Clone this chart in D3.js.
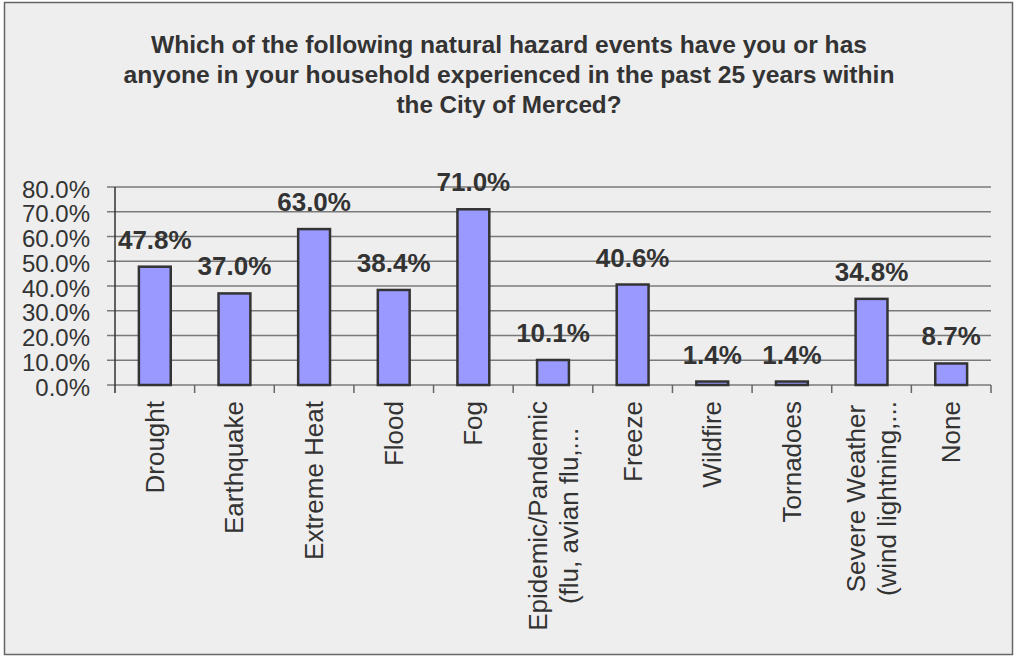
<!DOCTYPE html>
<html>
<head>
<meta charset="utf-8">
<script src="https://cdn.jsdelivr.net/npm/d3@7"></script>
<style>
  body { margin: 0; background: #fff; }
  text { font-family: "Liberation Sans", Arial, sans-serif; fill: #333; }
</style>
</head>
<body>
<svg width="1015" height="657"></svg>
<script>
// chart data
const titleLines = [
  "Which of the following natural hazard events have you or has",
  "anyone in your household experienced in the past 25 years within",
  "the City of Merced?"
];
const titleWidths = [716, 771, 225];
const categories = [
  "Drought", "Earthquake", "Extreme Heat", "Flood", "Fog",
  "Epidemic/Pandemic (flu, avian flu,...", "Freeze", "Wildfire", "Tornadoes",
  "Severe Weather (wind lightning,...", "None"
];
const categoryLines = [
  ["Drought"], ["Earthquake"], ["Extreme Heat"], ["Flood"], ["Fog"],
  ["Epidemic/Pandemic", "(flu, avian flu,..."], ["Freeze"], ["Wildfire"], ["Tornadoes"],
  ["Severe Weather", "(wind lightning,..."], ["None"]
];
const values = [0.478, 0.370, 0.630, 0.384, 0.710, 0.101, 0.406, 0.014, 0.014, 0.348, 0.087];
const yTicks = [0, 0.1, 0.2, 0.3, 0.4, 0.5, 0.6, 0.7, 0.8];

const svg = d3.select("svg");
const fmt = d3.format(".1%");

// background + border
svg.append("rect")
  .attr("x", 4.5).attr("y", 2.5)
  .attr("width", 1008).attr("height", 652)
  .attr("fill", "#eeeeee")
  .attr("stroke", "#666")
  .attr("stroke-width", 1.5);

// title
svg.append("g").selectAll("text")
  .data(titleLines)
  .enter().append("text")
    .attr("x", 509)
    .attr("y", (d, i) => 53 + i * 30)
    .attr("text-anchor", "middle")
    .attr("textLength", (d, i) => titleWidths[i])
    .attr("lengthAdjust", "spacingAndGlyphs")
    .style("font-size", "24px")
    .style("font-weight", "bold")
    .text(d => d);

// scales
const x = d3.scaleBand()
  .domain(categories)
  .range([115, 991])
  .padding(0);

const y = d3.scaleLinear()
  .domain([0, 0.8])
  .range([385, 187]);

// gridlines
svg.append("g").selectAll("line")
  .data(yTicks)
  .enter().append("line")
    .attr("x1", 107).attr("x2", 991)
    .attr("y1", d => y(d)).attr("y2", d => y(d))
    .attr("stroke", "#7a7a7a")
    .attr("stroke-width", 1.5);

// y axis line
svg.append("line")
  .attr("x1", 115).attr("x2", 115)
  .attr("y1", y(0.8)).attr("y2", y(0) + 8)
  .attr("stroke", "#333")
  .attr("stroke-width", 1.5);

// category ticks
svg.append("g").selectAll("line")
  .data(categories.slice(1).concat(["__end"]))
  .enter().append("line")
    .attr("x1", d => d === "__end" ? 991 : x(d))
    .attr("x2", d => d === "__end" ? 991 : x(d))
    .attr("y1", y(0)).attr("y2", y(0) + 8)
    .attr("stroke", "#666")
    .attr("stroke-width", 1.5);

// y tick labels
svg.append("g").selectAll("text")
  .data(yTicks)
  .enter().append("text")
    .attr("x", 90)
    .attr("y", d => y(d) + 2)
    .attr("text-anchor", "end")
    .attr("dominant-baseline", "central")
    .style("font-size", "24px")
    .text(d => fmt(d));

// bars
const bw = x.bandwidth() * 0.4;
svg.append("g").selectAll("rect")
  .data(values)
  .enter().append("rect")
    .attr("x", (d, i) => x(categories[i]) + (x.bandwidth() - bw) / 2)
    .attr("y", d => y(d))
    .attr("width", bw)
    .attr("height", d => y(0) - y(d))
    .attr("fill", "#9999ff")
    .attr("stroke", "#333")
    .attr("stroke-width", 2.5);

// value labels
svg.append("g").selectAll("text")
  .data(values)
  .enter().append("text")
    .attr("x", (d, i) => x(categories[i]) + x.bandwidth() / 2)
    .attr("y", d => y(d) - 18)
    .attr("text-anchor", "middle")
    .style("font-size", "26px")
    .style("font-weight", "bold")
    .text(d => fmt(d));

// category labels (rotated)
const lineGap = 31;
const labelTop = 401;
const lab = svg.append("g").selectAll("g")
  .data(categories)
  .enter().append("g");

lab.each(function(c, i) {
  const lines = categoryLines[i];
  const g = d3.select(this);
  const cx = x(c) + x.bandwidth() / 2;
  const texts = g.selectAll("text")
    .data(lines)
    .enter().append("text")
      .attr("text-anchor", "middle")
      .attr("dominant-baseline", "central")
      .style("font-size", "26px")
      .text(d => d);
  const maxLen = d3.max(texts.nodes(), n => n.getComputedTextLength());
  const cy = labelTop + maxLen / 2;
  texts.attr("transform", (d, j) => {
    const off = (j - (lines.length - 1) / 2) * lineGap;
    return `translate(${cx + off},${cy}) rotate(-90)`;
  });
});
</script>
</body>
</html>
